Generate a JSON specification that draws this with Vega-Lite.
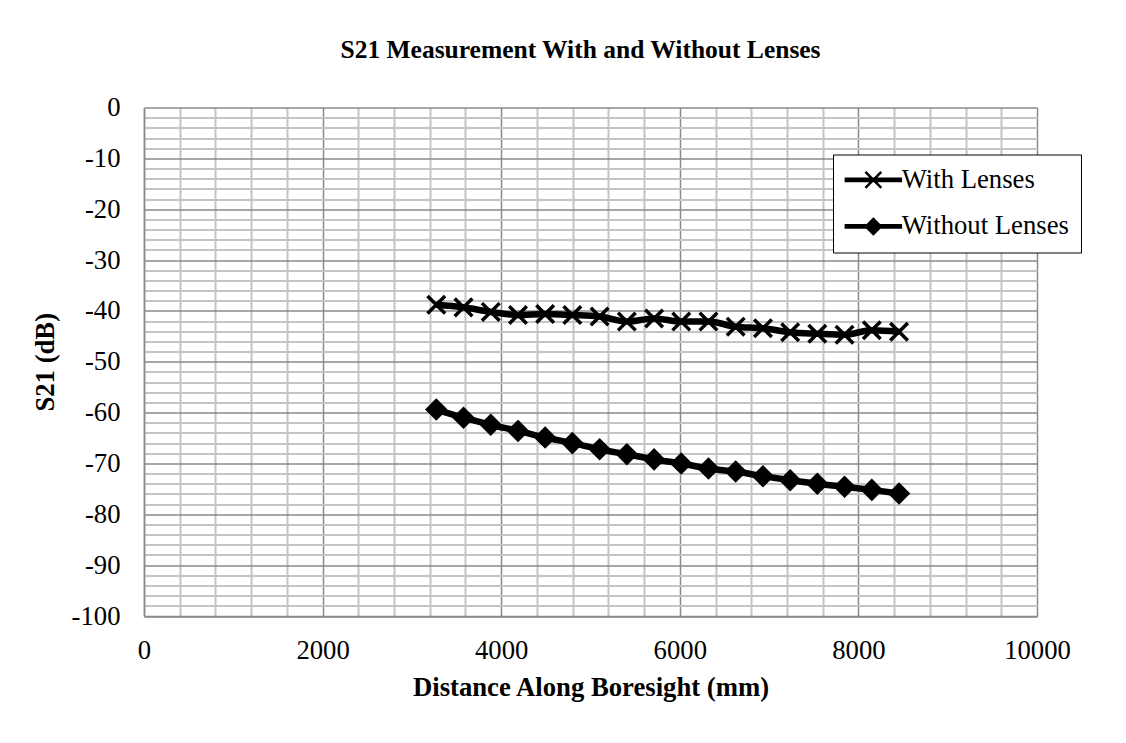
{
  "$schema": "https://vega.github.io/schema/vega-lite/v6.json",
  "width": 893,
  "height": 508.5,
  "autosize": {"type": "none"},
  "padding": {"left": 144, "top": 107.5, "right": 89, "bottom": 127},
  "background": "white",
  "config": {
    "view": {"stroke": null},
    "font": "Liberation Serif",
    "axis": {"labelFont": "Liberation Serif", "titleFont": "Liberation Serif", "labelColor": "#000000", "titleColor": "#000000"}
  },
  "title": {
    "text": "S21 Measurement With and Without Lenses",
    "font": "Liberation Serif",
    "fontSize": 25.5,
    "fontWeight": "bold",
    "color": "#000000",
    "anchor": "middle",
    "frame": "group",
    "baseline": "bottom",
    "offset": 6,
    "dx": -10
  },
  "data": {
    "values": [
      {"series": "With Lenses", "distance": 3273, "s21": -38.8},
      {"series": "With Lenses", "distance": 3578, "s21": -39.3},
      {"series": "With Lenses", "distance": 3883, "s21": -40.2},
      {"series": "With Lenses", "distance": 4188, "s21": -40.8},
      {"series": "With Lenses", "distance": 4492, "s21": -40.6},
      {"series": "With Lenses", "distance": 4797, "s21": -40.8},
      {"series": "With Lenses", "distance": 5102, "s21": -41.1},
      {"series": "With Lenses", "distance": 5407, "s21": -42.1},
      {"series": "With Lenses", "distance": 5712, "s21": -41.5},
      {"series": "With Lenses", "distance": 6016, "s21": -42.1},
      {"series": "With Lenses", "distance": 6321, "s21": -42.1},
      {"series": "With Lenses", "distance": 6626, "s21": -43.1},
      {"series": "With Lenses", "distance": 6931, "s21": -43.4},
      {"series": "With Lenses", "distance": 7236, "s21": -44.2},
      {"series": "With Lenses", "distance": 7540, "s21": -44.5},
      {"series": "With Lenses", "distance": 7845, "s21": -44.7},
      {"series": "With Lenses", "distance": 8150, "s21": -43.8},
      {"series": "With Lenses", "distance": 8455, "s21": -44.1},
      {"series": "Without Lenses", "distance": 3273, "s21": -59.4},
      {"series": "Without Lenses", "distance": 3578, "s21": -61.0},
      {"series": "Without Lenses", "distance": 3883, "s21": -62.4},
      {"series": "Without Lenses", "distance": 4188, "s21": -63.6},
      {"series": "Without Lenses", "distance": 4492, "s21": -64.9},
      {"series": "Without Lenses", "distance": 4797, "s21": -66.0},
      {"series": "Without Lenses", "distance": 5102, "s21": -67.2},
      {"series": "Without Lenses", "distance": 5407, "s21": -68.2},
      {"series": "Without Lenses", "distance": 5712, "s21": -69.2},
      {"series": "Without Lenses", "distance": 6016, "s21": -70.0},
      {"series": "Without Lenses", "distance": 6321, "s21": -71.0},
      {"series": "Without Lenses", "distance": 6626, "s21": -71.6},
      {"series": "Without Lenses", "distance": 6931, "s21": -72.5},
      {"series": "Without Lenses", "distance": 7236, "s21": -73.3},
      {"series": "Without Lenses", "distance": 7540, "s21": -74.0},
      {"series": "Without Lenses", "distance": 7845, "s21": -74.6},
      {"series": "Without Lenses", "distance": 8150, "s21": -75.2},
      {"series": "Without Lenses", "distance": 8455, "s21": -75.9}
    ]
  },
  "layer": [
    {
      "mark": {"type": "line", "stroke": "#000000", "strokeWidth": 6.5, "interpolate": "monotone"},
      "encoding": {
        "x": {
          "field": "distance", "type": "quantitative",
          "scale": {"domain": [0, 10000], "nice": false, "zero": false},
          "axis": {
            "orient": "bottom",
            "values": [400, 800, 1200, 1600, 2400, 2800, 3200, 3600, 4400, 4800, 5200, 5600, 6400, 6800, 7200, 7600, 8400, 8800, 9200, 9600],
            "grid": true, "gridColor": "#c4c4c4", "gridWidth": 2,
            "labels": false, "ticks": false, "domain": false, "title": null
          }
        },
        "y": {
          "field": "s21", "type": "quantitative",
          "scale": {"domain": [-100, 0], "nice": false, "zero": false},
          "axis": {
            "orient": "left",
            "values": [-98, -96, -94, -92, -88, -86, -84, -82, -78, -76, -74, -72, -68, -66, -64, -62, -58, -56, -54, -52, -48, -46, -44, -42, -38, -36, -34, -32, -28, -26, -24, -22, -18, -16, -14, -12, -8, -6, -4, -2],
            "grid": true, "gridColor": "#c4c4c4", "gridWidth": 2,
            "labels": false, "ticks": false, "domain": false, "title": null
          }
        },
        "detail": {"field": "series", "type": "nominal"}
      }
    },
    {
      "mark": {"type": "point", "filled": true, "fill": "#000000", "stroke": "#000000", "strokeWidth": 3.5, "opacity": 1, "size": 484},
      "encoding": {
        "x": {
          "field": "distance", "type": "quantitative",
          "axis": {
            "orient": "bottom",
            "values": [0, 2000, 4000, 6000, 8000, 10000],
            "labelExpr": "datum.value + ''",
            "grid": true, "gridColor": "#8a8a8a", "gridWidth": 1.5,
            "domain": true, "domainColor": "#8a8a8a", "domainWidth": 1.5,
            "ticks": false,
            "labelFontSize": 26.7, "labelPadding": 21, "labelFlush": false,
            "title": "Distance Along Boresight (mm)",
            "titleFontSize": 26.7, "titleFontWeight": "bold", "titlePadding": 11
          }
        },
        "y": {
          "field": "s21", "type": "quantitative",
          "axis": {
            "orient": "left",
            "values": [-100, -90, -80, -70, -60, -50, -40, -30, -20, -10, 0],
            "labelExpr": "datum.value + ''",
            "grid": true, "gridColor": "#8a8a8a", "gridWidth": 1.5,
            "domain": true, "domainColor": "#8a8a8a", "domainWidth": 1.5,
            "ticks": false,
            "labelFontSize": 26.7, "labelPadding": 24, "labelFlush": false,
            "title": "S21 (dB)",
            "titleFontSize": 26.7, "titleFontWeight": "bold", "titlePadding": 12
          }
        },
        "shape": {
          "field": "series", "type": "nominal",
          "scale": {
            "domain": ["With Lenses", "Without Lenses"],
            "range": ["M-0.8,-0.8L0.8,0.8M-0.8,0.8L0.8,-0.8", "M0,-0.8L0.8,0L0,0.8L-0.8,0Z"]
          },
          "legend": null
        }
      }
    },
    {
      "transform": [{"filter": "false"}],
      "mark": {"type": "point", "filled": false, "color": "#000000", "strokeWidth": 2.5, "opacity": 1, "size": 484},
      "encoding": {
        "x": {"field": "distance", "type": "quantitative", "axis": null},
        "y": {"field": "s21", "type": "quantitative", "axis": null},
        "shape": {
          "field": "series", "type": "nominal",
          "scale": {
            "domain": ["With Lenses", "Without Lenses"],
            "range": [
              "M-2.5,-0.1H2.5V0.1H-2.5Z M-0.72,-0.72L0.72,0.72M-0.72,0.72L0.72,-0.72",
              "M-2.5,-0.1H2.5V0.1H-2.5Z M0,-0.68L0.68,0L0,0.68L-0.68,0Z M0,-0.48L0.48,0L0,0.48L-0.48,0Z M0,-0.28L0.28,0L0,0.28L-0.28,0Z M0,-0.1L0.1,0L0,0.1L-0.1,0Z"
            ]
          },
          "legend": {
            "orient": "none",
            "legendX": 689,
            "legendY": 47,
            "title": null,
            "strokeColor": "#000000",
            "fillColor": "#ffffff",
            "padding": 12,
            "rowPadding": 18.6,
            "symbolSize": 484,
            "symbolStrokeWidth": 2.5,
            "symbolStrokeColor": "#000000",
            "symbolOpacity": 1,
            "symbolOffset": 15,
            "labelOffset": 15,
            "labelFont": "Liberation Serif",
            "labelFontSize": 26.7,
            "labelColor": "#000000",
            "labelLimit": 400
          }
        }
      }
    }
  ],
  "resolve": {
    "axis": {"x": "independent", "y": "independent"},
    "scale": {"shape": "independent"}
  }
}
